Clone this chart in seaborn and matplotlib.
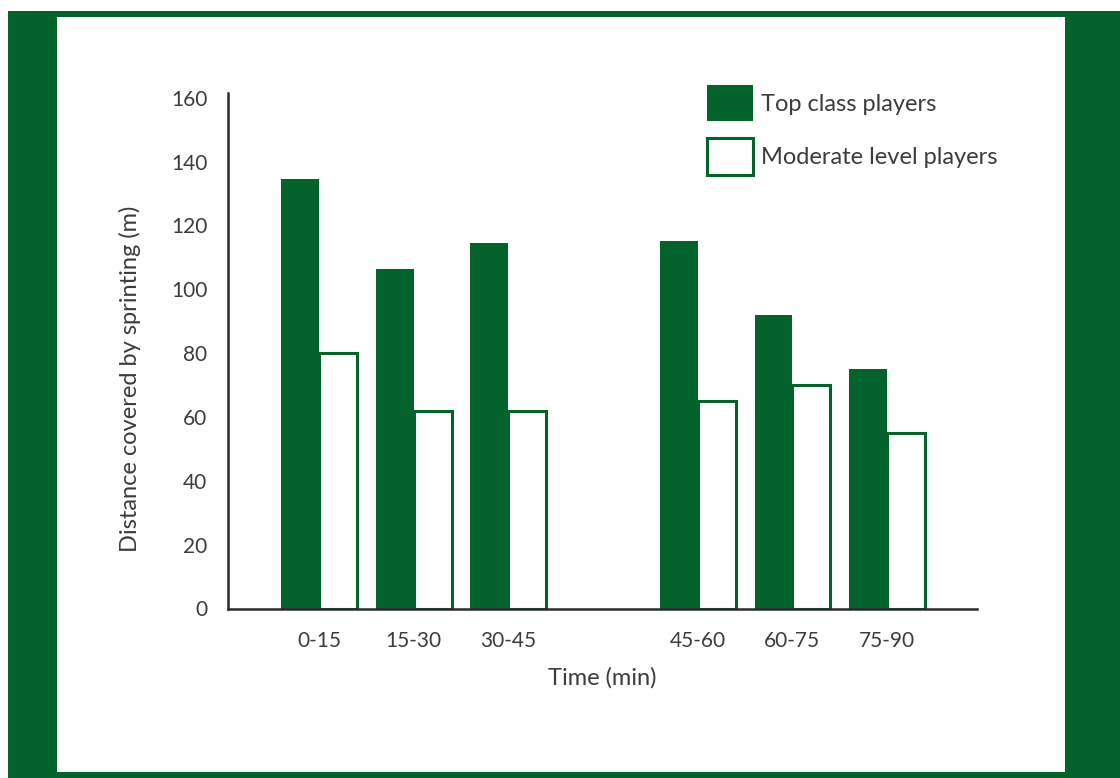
import matplotlib
matplotlib.use("Agg")
import matplotlib.pyplot as plt
from matplotlib.patches import Rectangle, Patch
import seaborn as sns
import pandas as pd

# ---- data ----
periods = ["0-15", "15-30", "30-45", "45-60", "60-75", "75-90"]
top_class = [134.5, 106.5, 114.5, 115, 92, 75]
moderate = [80, 62, 62, 65, 70, 55]
series_names = ["Top class players", "Moderate level players"]
y_ticks = [0, 20, 40, 60, 80, 100, 120, 140, 160]
x_title = "Time (min)"
y_title = "Distance covered by sprinting (m)"

GREEN = "#04632A"
TEXT = "#3c3c3c"

df = pd.DataFrame({
    "period": periods * 2,
    "dist": top_class + moderate,
    "level": [series_names[0]] * len(periods) + [series_names[1]] * len(periods),
})
order = periods[:3] + [" "] + periods[3:]

sns.set_theme(style="white")
plt.rcParams["font.family"] = ["Lato", "DejaVu Sans"]

fig = plt.figure(figsize=(11.2, 7.78), dpi=100)
fig.patch.set_facecolor("white")
W, H = 1120, 778
fig.patches.append(Rectangle((8 / W, 0), 1 - 8 / W, (H - 11) / H,
                             transform=fig.transFigure, facecolor=GREEN,
                             edgecolor="none", zorder=-10))
fig.patches.append(Rectangle((57 / W, (H - 772) / H), (1065 - 57) / W, (772 - 17) / H,
                             transform=fig.transFigure, facecolor="white",
                             edgecolor="none", zorder=-9))

ax = fig.add_axes([228 / W, 1 - 608.5 / H, (977 - 228) / W, (608.5 - 93) / H])
ax.set_facecolor("none")

sns.barplot(data=df, x="period", y="dist", hue="level", order=order,
            hue_order=series_names, palette=[GREEN, GREEN], width=0.8,
            saturation=1, legend=False, ax=ax)

for bar in ax.containers[0]:
    bar.set_edgecolor("none")
for bar in ax.containers[1]:
    bar.set_facecolor("white")
    bar.set_edgecolor(GREEN)
    bar.set_linewidth(2.2)

ax.set_xlim(-0.961, 6.95)
ax.set_ylim(0, 161.5)
ax.set_yticks(y_ticks)
ax.set_yticklabels([str(t) for t in y_ticks])

for s in ["top", "right"]:
    ax.spines[s].set_visible(False)
for s in ["left", "bottom"]:
    ax.spines[s].set_color("#2b2b2b")
    ax.spines[s].set_linewidth(1.8)

ax.tick_params(axis="both", length=0, labelsize=15, colors=TEXT)
ax.tick_params(axis="x", pad=16)
ax.tick_params(axis="y", pad=15)
ax.set_xlabel(x_title, fontsize=17, color=TEXT, labelpad=12)
ax.set_ylabel(y_title, fontsize=17, color=TEXT)
ax.yaxis.set_label_coords((141 - 228) / 749, (608.5 - 379) / 515.5)

handles = [
    Patch(facecolor=GREEN, edgecolor=GREEN, linewidth=0),
    Patch(facecolor="white", edgecolor=GREEN, linewidth=2.2),
]
leg = ax.legend(handles, series_names, loc="upper left",
                bbox_to_anchor=((707 - 228) / 749, (608.5 - 85) / 515.5),
                frameon=False, fontsize=17, handlelength=1.95, handleheight=2.0,
                handletextpad=0.35, labelspacing=0.72, borderpad=0,
                borderaxespad=0)
for t in leg.get_texts():
    t.set_color(TEXT)

fig.savefig("out.png", dpi=100, facecolor=fig.get_facecolor())
